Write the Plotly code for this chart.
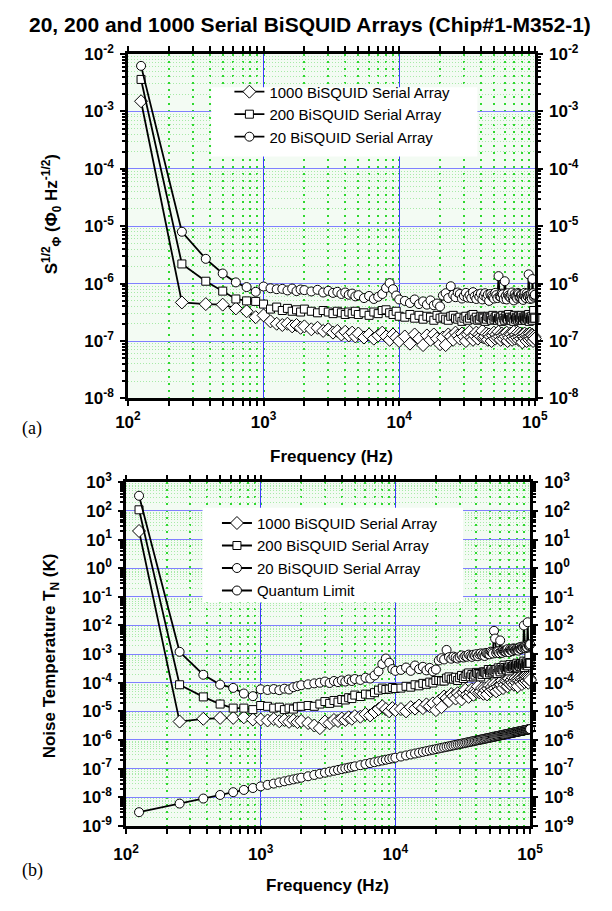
import plotly.graph_objects as go

# ---------------- data ----------------
FREQ_HZ = [
    125, 250, 375, 500, 625, 750, 875, 1000,
    1125, 1250, 1375, 1500, 1625, 1750, 1875, 2000,
    2250, 2500, 2750, 3000, 3250, 3500, 3750, 4000, 4250, 4500, 4750, 5000,
    5500, 6000, 6500, 7000, 7500, 8000, 8500, 9000, 9500, 10000,
    11000, 12000, 13000, 14000, 15000, 16000, 17000, 18000, 19000, 20000,
    21000, 22000, 23000, 24000, 25000, 26000, 27000, 28000, 29000, 30000,
    31000, 32000, 33000, 34000, 35000, 36000, 37000, 38000, 39000, 40000,
    41000, 42000, 43000, 44000, 45000, 46000, 47000, 48000, 49000, 50000,
    51000, 52000, 53000, 54000, 55000, 56000, 57000, 58000, 59000, 60000,
    61000, 62000, 63000, 64000, 65000, 66000, 67000, 68000, 69000, 70000,
    71000, 72000, 73000, 74000, 75000, 76000, 77000, 78000, 79000, 80000,
    81000, 82000, 83000, 84000, 85000, 86000, 87000, 88000, 89000, 90000,
    91000, 92000, 93000, 94000, 95000, 96000, 97000, 98000, 99000, 100000,
]

# (a) flux noise S^1/2 (Phi0 / Hz^1/2)
S_20 = [
    6.2e-3, 8.0e-6, 2.7e-6, 1.5e-6, 1.05e-6, 8.7e-7, 7.2e-7, 8.9e-7,
    8.3e-7, 8.0e-7, 8.1e-7, 7.6e-7, 8.2e-7, 7.4e-7, 7.9e-7, 7.7e-7,
    7.3e-7, 7.8e-7, 7.0e-7, 7.5e-7, 6.9e-7, 7.2e-7, 6.6e-7, 7.0e-7, 6.4e-7, 6.7e-7, 6.0e-7, 6.3e-7,
    5.6e-7, 6.1e-7, 5.4e-7, 5.9e-7, 6.6e-7, 8.4e-7, 1.02e-6, 8.0e-7, 6.2e-7, 5.3e-7,
    5.0e-7, 4.6e-7, 5.3e-7, 4.4e-7, 4.9e-7, 4.3e-7, 5.1e-7, 4.2e-7, 4.5e-7, 4.0e-7,
    6.2e-7, 6.8e-7, 5.6e-7, 9.0e-7, 6.4e-7, 5.8e-7, 7.0e-7, 6.6e-7, 5.5e-7, 6.1e-7,
    6.9e-7, 5.7e-7, 6.3e-7, 5.6e-7, 7.1e-7, 6.0e-7, 5.4e-7, 6.5e-7, 5.9e-7, 6.7e-7,
    5.3e-7, 6.2e-7, 6.8e-7, 5.7e-7, 6.4e-7, 5.0e-7, 6.6e-7, 6.1e-7, 5.8e-7, 5.5e-7,
    6.9e-7, 6.3e-7, 5.6e-7, 1.35e-6, 6.0e-7, 5.9e-7, 6.7e-7, 6.5e-7, 5.4e-7, 1.1e-6,
    6.1e-7, 5.3e-7, 6.8e-7, 6.2e-7, 5.9e-7, 5.7e-7, 6.4e-7, 7.0e-7, 5.5e-7, 5.1e-7,
    6.6e-7, 6.0e-7, 5.8e-7, 5.5e-7, 6.9e-7, 6.6e-7, 5.7e-7, 5.8e-7, 6.4e-7, 6.3e-7,
    5.6e-7, 5.2e-7, 6.2e-7, 6.9e-7, 5.8e-7, 5.6e-7, 6.7e-7, 6.1e-7, 5.9e-7, 1.45e-6,
    6.3e-7, 5.4e-7, 6.0e-7, 6.7e-7, 5.5e-7, 1.2e-6, 6.8e-7, 5.9e-7, 6.2e-7, 6.4e-7,
]
S_200 = [
    3.6e-3, 2.2e-6, 1.1e-6, 7.4e-7, 5.4e-7, 5.0e-7, 4.9e-7, 4.4e-7,
    3.6e-7, 3.9e-7, 3.4e-7, 3.7e-7, 3.3e-7, 3.5e-7, 3.2e-7, 3.6e-7,
    3.3e-7, 3.1e-7, 3.4e-7, 3.2e-7, 3.0e-7, 3.3e-7, 3.1e-7, 2.9e-7, 3.2e-7, 3.0e-7, 3.3e-7, 2.9e-7,
    3.1e-7, 2.8e-7, 3.2e-7, 3.0e-7, 3.4e-7, 3.5e-7, 3.1e-7, 2.9e-7, 3.3e-7, 2.7e-7,
    2.6e-7, 2.9e-7, 2.5e-7, 2.8e-7, 2.4e-7, 2.7e-7, 2.6e-7, 2.3e-7, 2.8e-7, 2.5e-7,
    2.6e-7, 2.4e-7, 2.3e-7, 2.7e-7, 2.8e-7, 2.5e-7, 2.4e-7, 2.6e-7, 2.2e-7, 2.5e-7,
    2.7e-7, 2.3e-7, 2.5e-7, 2.8e-7, 2.9e-7, 2.4e-7, 2.6e-7, 2.3e-7, 2.4e-7, 2.7e-7,
    2.6e-7, 2.5e-7, 2.2e-7, 2.4e-7, 2.7e-7, 2.6e-7, 2.5e-7, 2.3e-7, 2.8e-7, 2.4e-7,
    2.6e-7, 2.7e-7, 2.3e-7, 2.5e-7, 2.4e-7, 2.6e-7, 2.2e-7, 2.8e-7, 2.5e-7, 2.3e-7,
    2.7e-7, 2.5e-7, 2.4e-7, 2.9e-7, 2.6e-7, 2.4e-7, 2.3e-7, 2.6e-7, 2.5e-7, 2.2e-7,
    2.8e-7, 2.4e-7, 2.6e-7, 2.5e-7, 2.3e-7, 2.7e-7, 2.4e-7, 2.6e-7, 2.5e-7, 2.8e-7,
    2.3e-7, 2.6e-7, 2.5e-7, 2.4e-7, 2.7e-7, 2.3e-7, 2.6e-7, 2.5e-7, 2.4e-7, 2.9e-7,
    2.2e-7, 2.6e-7, 2.4e-7, 2.5e-7, 2.7e-7, 2.3e-7, 2.5e-7, 3.4e-7, 2.6e-7, 2.5e-7,
]
S_1000 = [
    1.5e-3, 4.7e-7, 4.4e-7, 4.3e-7, 3.7e-7, 3.3e-7, 2.6e-7, 2.8e-7,
    2.2e-7, 2.0e-7, 1.9e-7, 2.0e-7, 1.8e-7, 1.9e-7, 1.7e-7, 1.8e-7,
    1.6e-7, 1.7e-7, 1.5e-7, 1.6e-7, 1.4e-7, 1.5e-7, 1.3e-7, 1.45e-7, 1.25e-7, 1.4e-7, 1.2e-7, 1.35e-7,
    1.15e-7, 1.3e-7, 1.1e-7, 1.25e-7, 1.4e-7, 1.2e-7, 1.05e-7, 1.3e-7, 1.15e-7, 1.0e-7,
    1.2e-7, 9.0e-8, 1.3e-7, 1.1e-7, 8.5e-8, 1.25e-7, 1.05e-7, 1.3e-7, 1.1e-7, 8.8e-8,
    1.15e-7, 8.5e-8, 1.3e-7, 1.2e-7, 1.05e-7, 1.4e-7, 1.25e-7, 1.1e-7, 1.35e-7, 1.2e-7,
    1.0e-7, 1.3e-7, 1.45e-7, 1.15e-7, 1.05e-7, 1.25e-7, 1.4e-7, 1.1e-7, 1.3e-7, 1.2e-7,
    1.5e-7, 1.15e-7, 1.2e-7, 1.35e-7, 1.05e-7, 1.3e-7, 1.2e-7, 1.0e-7, 1.25e-7, 1.4e-7,
    1.1e-7, 1.3e-7, 1.15e-7, 1.45e-7, 1.2e-7, 1.05e-7, 1.35e-7, 1.25e-7, 1.1e-7, 1.3e-7,
    1.2e-7, 1.4e-7, 1.0e-7, 1.25e-7, 1.15e-7, 1.35e-7, 1.3e-7, 1.05e-7, 1.2e-7, 1.45e-7,
    1.1e-7, 1.25e-7, 1.3e-7, 1.15e-7, 1.4e-7, 1.05e-7, 1.2e-7, 1.35e-7, 1.1e-7, 1.25e-7,
    9.5e-8, 1.3e-7, 1.2e-7, 1.35e-7, 1.1e-7, 1.25e-7, 1.0e-7, 1.3e-7, 1.15e-7, 1.2e-7,
    1.05e-7, 1.35e-7, 1.2e-7, 1.1e-7, 1.3e-7, 1.25e-7, 1.0e-7, 1.15e-7, 1.2e-7, 1.1e-7,
]

# (b) noise temperature T_N (K)
T_20 = [
    340, 1.2e-3, 1.9e-4, 8.6e-5, 6.6e-5, 4.2e-5, 3.4e-5, 5.9e-5,
    5.6e-5, 6.0e-5, 5.5e-5, 6.2e-5, 5.8e-5, 7.0e-5, 7.6e-5, 8.2e-5,
    8.8e-5, 9.5e-5, 1.0e-4, 1.1e-4, 9.8e-5, 1.15e-4, 1.05e-4, 1.2e-4, 1.1e-4, 1.3e-4, 1.15e-4, 1.35e-4,
    1.25e-4, 1.5e-4, 1.4e-4, 1.8e-4, 2.5e-4, 4.5e-4, 7.0e-4, 5.0e-4, 3.0e-4, 2.6e-4,
    2.8e-4, 3.4e-4, 2.6e-4, 4.0e-4, 3.0e-4, 3.6e-4, 2.7e-4, 3.3e-4, 2.5e-4, 2.9e-4,
    6.0e-4, 7.2e-4, 6.5e-4, 1.4e-3, 7.8e-4, 6.9e-4, 8.2e-4, 7.6e-4, 7.0e-4, 7.9e-4,
    9.0e-4, 7.6e-4, 8.5e-4, 8.1e-4, 9.6e-4, 8.6e-4, 8.0e-4, 9.5e-4, 8.8e-4, 1.0e-3,
    8.4e-4, 9.8e-4, 1.06e-3, 9.2e-4, 1.04e-3, 8.6e-4, 1.1e-3, 1.05e-3, 1.0e-3, 9.8e-4,
    1.22e-3, 1.14e-3, 1.05e-3, 6.5e-3, 3.5e-3, 1.1e-3, 1.26e-3, 1.24e-3, 1.08e-3, 3.0e-3,
    1.2e-3, 1.1e-3, 1.34e-3, 1.26e-3, 1.24e-3, 1.2e-3, 1.38e-3, 1.49e-3, 1.22e-3, 1.16e-3,
    1.46e-3, 1.36e-3, 1.32e-3, 1.28e-3, 1.58e-3, 1.54e-3, 1.36e-3, 1.4e-3, 1.56e-3, 1.54e-3,
    1.4e-3, 1.32e-3, 1.58e-3, 1.76e-3, 1.54e-3, 1.5e-3, 1.82e-3, 1.7e-3, 1.66e-3, 1.0e-2,
    1.84e-3, 1.6e-3, 1.78e-3, 2.0e-3, 1.72e-3, 1.3e-2, 2.12e-3, 1.92e-3, 2.04e-3, 2.2e-3,
]
T_200 = [
    110, 8.5e-5, 3.2e-5, 1.8e-5, 1.3e-5, 1.3e-5, 1.15e-5, 1.6e-5,
    1.5e-5, 1.3e-5, 1.4e-5, 1.15e-5, 1.3e-5, 1.2e-5, 1.45e-5, 1.5e-5,
    1.6e-5, 1.5e-5, 1.8e-5, 2.2e-5, 1.9e-5, 2.4e-5, 2.1e-5, 2.6e-5, 2.5e-5, 3.0e-5, 2.8e-5, 3.7e-5,
    3.3e-5, 4.0e-5, 3.8e-5, 4.5e-5, 5.5e-5, 6.5e-5, 5.8e-5, 6.0e-5, 6.8e-5, 6.3e-5,
    6.5e-5, 7.5e-5, 7.0e-5, 8.5e-5, 7.8e-5, 9.5e-5, 8.8e-5, 1.05e-4, 9.8e-5, 1.2e-4,
    1.2e-4, 1.15e-4, 1.15e-4, 1.45e-4, 1.6e-4, 1.35e-4, 1.35e-4, 1.55e-4, 1.2e-4, 1.5e-4,
    1.8e-4, 1.4e-4, 1.65e-4, 2.0e-4, 2.2e-4, 1.6e-4, 1.95e-4, 1.6e-4, 1.85e-4, 2.3e-4,
    2.1e-4, 2.0e-4, 1.6e-4, 1.95e-4, 2.4e-4, 2.35e-4, 2.2e-4, 1.95e-4, 2.9e-4, 2.2e-4,
    2.6e-4, 2.9e-4, 2.2e-4, 2.6e-4, 2.4e-4, 2.9e-4, 2.1e-4, 3.3e-4, 2.8e-4, 2.4e-4,
    3.4e-4, 2.9e-4, 2.8e-4, 4.1e-4, 3.4e-4, 3.0e-4, 2.8e-4, 3.5e-4, 3.3e-4, 2.6e-4,
    4.3e-4, 3.1e-4, 3.7e-4, 3.6e-4, 3.1e-4, 4.2e-4, 3.4e-4, 3.9e-4, 3.7e-4, 4.8e-4,
    3.3e-4, 4.2e-4, 4.0e-4, 3.7e-4, 4.7e-4, 3.6e-4, 4.5e-4, 4.2e-4, 4.0e-4, 5.7e-4,
    3.4e-4, 4.8e-4, 4.1e-4, 4.5e-4, 5.4e-4, 3.9e-4, 4.7e-4, 8.6e-4, 5.1e-4, 4.8e-4,
]
T_1000 = [
    20, 4.4e-6, 5.5e-6, 5.9e-6, 5.9e-6, 6.2e-6, 5.2e-6, 5.2e-6,
    4.8e-6, 5.4e-6, 4.5e-6, 5.0e-6, 4.3e-6, 4.9e-6, 4.2e-6, 4.6e-6,
    3.9e-6, 3.2e-6, 2.6e-6, 4.4e-6, 3.8e-6, 5.0e-6, 4.6e-6, 5.6e-6, 5.0e-6, 6.2e-6, 5.5e-6, 6.8e-6,
    6.5e-6, 8.0e-6, 7.2e-6, 9.5e-6, 1.2e-5, 1.5e-5, 1.2e-5, 1.0e-5, 1.3e-5, 1.1e-5,
    1.2e-5, 1.0e-5, 1.4e-5, 1.25e-5, 1.6e-5, 1.3e-5, 1.75e-5, 1.5e-5, 1.9e-5, 1.1e-5,
    2.3e-5, 1.4e-5, 3.3e-5, 2.9e-5, 2.3e-5, 4.0e-5, 3.4e-5, 2.8e-5, 4.3e-5, 3.6e-5,
    2.6e-5, 4.5e-5, 5.7e-5, 3.8e-5, 3.2e-5, 4.7e-5, 5.9e-5, 3.8e-5, 5.5e-5, 4.8e-5,
    7.5e-5, 4.6e-5, 5.0e-5, 6.5e-5, 4.1e-5, 6.4e-5, 5.5e-5, 3.9e-5, 6.2e-5, 8.0e-5,
    5.1e-5, 7.1e-5, 5.9e-5, 9.0e-5, 6.4e-5, 5.0e-5, 8.5e-5, 7.4e-5, 5.9e-5, 8.2e-5,
    8.5e-5, 1.2e-4, 6.5e-5, 1.0e-4, 8.5e-5, 1.2e-4, 1.1e-4, 7.5e-5, 1.0e-4, 1.4e-4,
    9.0e-5, 1.15e-4, 1.25e-4, 1.0e-4, 1.5e-4, 8.5e-5, 1.15e-4, 1.45e-4, 1.0e-4, 1.25e-4,
    7.5e-5, 1.4e-4, 1.2e-4, 1.55e-4, 1.08e-4, 1.4e-4, 9.0e-5, 1.5e-4, 1.2e-4, 1.3e-4,
    1.05e-4, 1.7e-4, 1.35e-4, 1.15e-4, 1.65e-4, 1.5e-4, 1.0e-4, 1.35e-4, 1.45e-4, 1.25e-4,
]
T_QL = [
    3.0e-9, 6.0e-9, 9.0e-9, 1.2e-8, 1.5e-8, 1.8e-8, 2.1e-8, 2.4e-8,
    2.7e-8, 3.0e-8, 3.3e-8, 3.6e-8, 3.9e-8, 4.2e-8, 4.5e-8, 4.8e-8,
    5.4e-8, 6.0e-8, 6.6e-8, 7.2e-8, 7.8e-8, 8.4e-8, 9.0e-8, 9.6e-8, 1.02e-7, 1.08e-7, 1.14e-7, 1.2e-7,
    1.32e-7, 1.44e-7, 1.56e-7, 1.68e-7, 1.8e-7, 1.92e-7, 2.04e-7, 2.16e-7, 2.28e-7, 2.4e-7,
    2.64e-7, 2.88e-7, 3.12e-7, 3.36e-7, 3.6e-7, 3.84e-7, 4.08e-7, 4.32e-7, 4.56e-7, 4.8e-7,
    5.04e-7, 5.28e-7, 5.52e-7, 5.76e-7, 6.0e-7, 6.24e-7, 6.48e-7, 6.72e-7, 6.96e-7, 7.2e-7,
    7.44e-7, 7.68e-7, 7.92e-7, 8.16e-7, 8.4e-7, 8.64e-7, 8.88e-7, 9.12e-7, 9.36e-7, 9.6e-7,
    9.84e-7, 1.008e-6, 1.032e-6, 1.056e-6, 1.08e-6, 1.104e-6, 1.128e-6, 1.152e-6, 1.176e-6, 1.2e-6,
    1.224e-6, 1.248e-6, 1.272e-6, 1.296e-6, 1.32e-6, 1.344e-6, 1.368e-6, 1.392e-6, 1.416e-6, 1.44e-6,
    1.464e-6, 1.488e-6, 1.512e-6, 1.536e-6, 1.56e-6, 1.584e-6, 1.608e-6, 1.632e-6, 1.656e-6, 1.68e-6,
    1.704e-6, 1.728e-6, 1.752e-6, 1.776e-6, 1.8e-6, 1.824e-6, 1.848e-6, 1.872e-6, 1.896e-6, 1.92e-6,
    1.944e-6, 1.968e-6, 1.992e-6, 2.016e-6, 2.04e-6, 2.064e-6, 2.088e-6, 2.112e-6, 2.136e-6, 2.16e-6,
    2.184e-6, 2.208e-6, 2.232e-6, 2.256e-6, 2.28e-6, 2.304e-6, 2.328e-6, 2.352e-6, 2.376e-6, 2.4e-6,
]

SERIES_NAMES = ["1000 BiSQUID Serial Array", "200 BiSQUID Serial Array",
                "20 BiSQUID Serial Array", "Quantum Limit"]

X_EXP = [2, 3, 4, 5]
Y_EXP_A = [-8, -7, -6, -5, -4, -3, -2]
Y_EXP_B = [-9, -8, -7, -6, -5, -4, -3, -2, -1, 0, 1, 2, 3]

for arr in (S_20, S_200, S_1000, T_20, T_200, T_1000, T_QL):
    assert len(arr) == len(FREQ_HZ), len(arr)

# ---------------- layout helpers ----------------
W, H = 612, 911
FONT = "Liberation Sans, Arial, Helvetica, sans-serif"


def fx(p):
    return p / W


def fy(p):
    return 1 - p / H


TOP = dict(x0=120, x1=545, y0=43, y1=396)
BOT = dict(x0=118, x1=540, y0=482, y1=834)


def tick_text(exps):
    return [f"10<sup>{e}</sup>" for e in exps]


def tick_vals(exps):
    return [10.0 ** e for e in exps]


TICKFONT = dict(family=FONT, size=17, color="black", weight="bold")


def x_axis(panel, anchor, standoff):
    return dict(
        type="log", domain=[fx(panel["x0"]), fx(panel["x1"])], anchor=anchor,
        range=[2, 5], tickmode="array", tickvals=tick_vals(X_EXP),
        ticktext=tick_text(X_EXP), tickfont=TICKFONT,
        showline=True, linecolor="black", linewidth=2.5, mirror="allticks",
        ticks="outside", ticklen=5, tickwidth=2, tickcolor="black",
        showgrid=True, gridcolor="#3a3aff", gridwidth=1.3,
        minor=dict(dtick="D1", ticks="outside", ticklen=3, tickwidth=1.5,
                   tickcolor="black", showgrid=True, gridcolor="#2fd82f",
                   gridwidth=1.6, griddash="2px,5px"),
        zeroline=False, ticklabelstandoff=standoff,
    )


def y_axis(panel, anchor, exps, rng, right=False, overlay=None):
    d = dict(
        type="log", domain=[fy(panel["y1"]), fy(panel["y0"])], anchor=anchor,
        range=rng, tickmode="array", tickvals=tick_vals(exps),
        ticktext=tick_text(exps), tickfont=TICKFONT,
        showline=True, linecolor="black", linewidth=2.5,
        ticks="outside", ticklen=5, tickwidth=2, tickcolor="black",
        zeroline=False, ticklabelstandoff=3,
    )
    if right:
        d.update(side="right", overlaying=overlay, showgrid=False,
                 minor=dict(dtick="D1", ticks="outside", ticklen=3,
                            tickwidth=1.5, tickcolor="black", showgrid=False))
    else:
        d.update(mirror=True, showgrid=True, gridcolor="#8080ff", gridwidth=1.2,
                 minor=dict(dtick="D1", ticks="outside", ticklen=3,
                            tickwidth=1.5, tickcolor="black", showgrid=True,
                            gridcolor="#a8eaa8", gridwidth=1,
                            griddash="1px,2px"))
    return d


fig = go.Figure()

SYMBOLS = ["diamond", "square", "circle", "circle"]
SIZES = [10, 8, 9, 9]


def add_series(x, y, idx, xa, ya, legend):
    fig.add_trace(go.Scatter(
        x=x, y=y, name=SERIES_NAMES[idx], mode="lines+markers",
        xaxis=xa, yaxis=ya, legend=legend, cliponaxis=False,
        line=dict(color="black", width=1.8),
        marker=dict(symbol=SYMBOLS[idx], size=SIZES[idx], color="white",
                    line=dict(color="black", width=1)),
    ))


# panel (a)
add_series(FREQ_HZ, S_1000, 0, "x", "y", "legend")
add_series(FREQ_HZ, S_200, 1, "x", "y", "legend")
add_series(FREQ_HZ, S_20, 2, "x", "y", "legend")
# panel (b)
add_series(FREQ_HZ, T_1000, 0, "x2", "y3", "legend2")
add_series(FREQ_HZ, T_200, 1, "x2", "y3", "legend2")
add_series(FREQ_HZ, T_20, 2, "x2", "y3", "legend2")
add_series(FREQ_HZ, T_QL, 3, "x2", "y3", "legend2")

# empty traces so the right-hand (mirrored) y axes get drawn with labels
for xa, ya in (("x", "y2"), ("x2", "y4")):
    fig.add_trace(go.Scatter(x=[], y=[], xaxis=xa, yaxis=ya,
                             showlegend=False, hoverinfo="skip"))

LEGEND_FONT = dict(family=FONT, size=15, color="black")

fig.update_layout(
    width=W, height=H, margin=dict(l=0, r=0, t=0, b=0),
    paper_bgcolor="white", plot_bgcolor="#f3fbf3",
    font=dict(family=FONT, color="black"),
    showlegend=True,
    xaxis=x_axis(TOP, "y", 1),
    yaxis=y_axis(TOP, "x", Y_EXP_A, [-8, -2]),
    yaxis2=y_axis(TOP, "x", Y_EXP_A, [-8, -2], right=True, overlay="y"),
    xaxis2=x_axis(BOT, "y3", 6),
    yaxis3=y_axis(BOT, "x2", Y_EXP_B, [-9, 3]),
    yaxis4=y_axis(BOT, "x2", Y_EXP_B, [-9, 3], right=True, overlay="y3"),
    legend=dict(x=fx(226), y=fy(65), xanchor="left", yanchor="top",
                bgcolor="rgba(0,0,0,0)", borderwidth=0, font=LEGEND_FONT,
                tracegroupgap=0, itemwidth=30),
    legend2=dict(x=fx(213), y=fy(507), xanchor="left", yanchor="top",
                 bgcolor="rgba(0,0,0,0)", borderwidth=0, font=LEGEND_FONT,
                 tracegroupgap=0, itemwidth=30),
)

# white legend boxes (traces never pass through these areas)
for (bx0, bx1, by0, by1) in [(207, 485, 77, 148), (198, 470, 508, 605)]:
    fig.add_shape(type="rect", xref="paper", yref="paper",
                  x0=fx(bx0), x1=fx(bx1), y0=fy(by1), y1=fy(by0),
                  fillcolor="white", line=dict(width=0), layer="above")

ANN_FONT = dict(family=FONT, size=17, color="black", weight="bold")
annotations = [
    dict(text="20, 200 and 1000 Serial BiSQUID Arrays (Chip#1-M352-1)",
         x=fx(310), y=fy(13), font=dict(family=FONT, size=21, color="black", weight="bold")),
    dict(text="Frequency (Hz)", x=fx(333), y=fy(455), font=ANN_FONT),
    dict(text="Frequency (Hz)", x=fx(328), y=fy(895), font=ANN_FONT),
    dict(text="S<sup>1/2</sup><sub>Φ</sub> (Φ<sub>0</sub> Hz<sup>-1/2</sup>)",
         x=fx(40), y=fy(207), textangle=-90, font=ANN_FONT),
    dict(text="Noise Temperature T<sub>N</sub> (K)",
         x=fx(40), y=fy(660), textangle=-90, font=ANN_FONT),
    dict(text="(a)", x=fx(20), y=fy(427),
         font=dict(family="Liberation Serif, Times New Roman, serif", size=18, color="black")),
    dict(text="(b)", x=fx(20), y=fy(880),
         font=dict(family="Liberation Serif, Times New Roman, serif", size=18, color="black")),
]
for a in annotations:
    a.update(xref="paper", yref="paper", showarrow=False,
             xanchor="center", yanchor="middle")
fig.update_layout(annotations=annotations)

fig.write_html("out.html")
